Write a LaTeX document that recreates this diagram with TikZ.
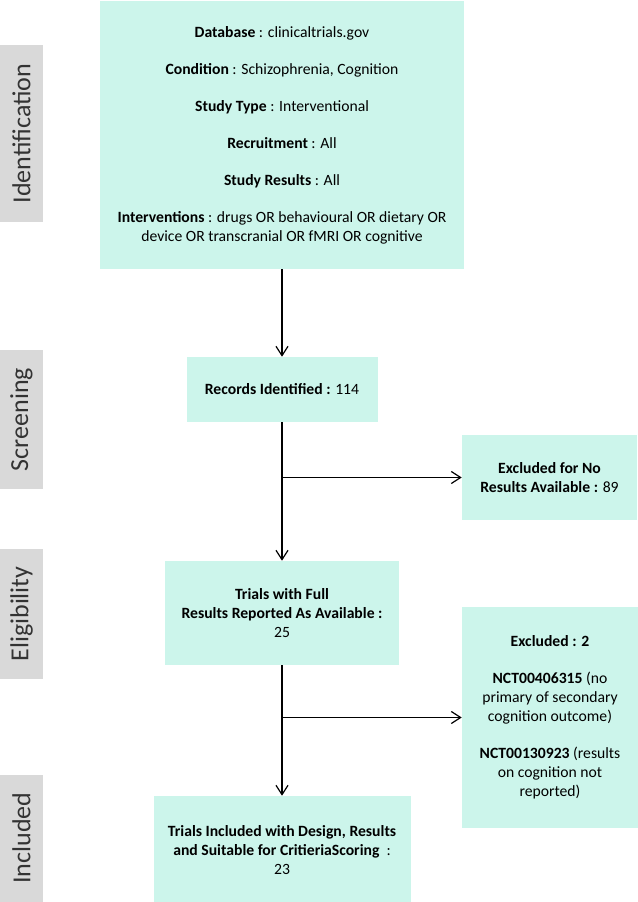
\documentclass[tikz,border=0pt]{standalone}
\usepackage{fontspec}
\setmainfont{Carlito}
\usetikzlibrary{arrows.meta}
\definecolor{mint}{RGB}{204,245,235}
\definecolor{sidegray}{RGB}{217,217,217}
\begin{document}
\begin{tikzpicture}[x=0.75pt,y=-0.75pt,
  box/.style={fill=mint,draw=none,inner sep=0pt,align=center,font=\fontsize{11.75pt}{14.25pt}\selectfont},
  side/.style={fill=sidegray,draw=none,inner sep=0pt,rotate=90,text=black!80,font=\fontsize{19.5pt}{22pt}\selectfont},
  conn/.style={line width=0.9pt,-{Straight Barb[length=7pt,width=9pt,line width=0.9pt]}},
  plain/.style={line width=0.9pt}]
\useasboundingbox (0,0) rectangle (638,902);
\fill[white] (0,0) rectangle (638,902);
% side labels
\node[side,minimum width=132.75pt,minimum height=32.25pt] (sid) at (21.5,133.5) {Identification};
\node[side,minimum width=104.25pt,minimum height=32.25pt] (ssc) at (21.5,419.5) {Screening};
\node[side,minimum width=97.5pt,minimum height=32.25pt] (sel) at (21.5,614) {Eligibility};
\node[side,minimum width=95.25pt,minimum height=32.25pt] (sin) at (21.5,838) {Included};
% boxes
\node[box,minimum width=273pt,minimum height=201pt] (top) at (282,135) {%
\textbf{Database} : clinicaltrials.gov\\[13.5pt]
\textbf{Condition} : Schizophrenia, Cognition\\[13.5pt]
\textbf{Study Type} : Interventional\\[13.5pt]
\textbf{Recruitment} : All\\[13.5pt]
\textbf{Study Results} : All\\[13.5pt]
\textbf{Interventions} : drugs OR behavioural OR dietary OR\\
device OR transcranial OR fMRI OR cognitive};
\node[box,minimum width=143.25pt,minimum height=48.75pt] (rec) at (282,389.5) {\textbf{Records Identified :} 114};
\node[box,minimum width=131.25pt,minimum height=63.75pt] (exa) at (549.5,477.5) {\textbf{Excluded for No}\\\textbf{Results Available :} 89};
\node[box,minimum width=175.5pt,minimum height=78pt] (tri) at (282,613) {\textbf{Trials with Full}\\\textbf{Results Reported As Available :}\\25};
\node[box,minimum width=132pt,minimum height=165.75pt] (exb) at (550,717.5) {%
\textbf{Excluded : 2}\\[13.5pt]
\textbf{NCT00406315} (no\\
primary of secondary\\
cognition outcome)\\[13.5pt]
\textbf{NCT00130923} (results\\
on cognition not\\
reported)};
\node[box,minimum width=192.75pt,minimum height=81pt] (inc) at (282,850) {\textbf{Trials Included with Design, Results}\\\textbf{and Suitable for CritieriaScoring} \ :\\23};
% connectors
\coordinate (ja) at (rec.south |- exa.west);
\coordinate (jb) at (tri.south |- exb.west);
\draw[conn] (top.south) -- (rec.north);
\draw[conn] (rec.south) -- (tri.north);
\draw[conn] (ja) -- (exa.west);
\draw[conn] (tri.south) -- (inc.north);
\draw[conn] (jb) -- (exb.west);
\end{tikzpicture}
\end{document}
